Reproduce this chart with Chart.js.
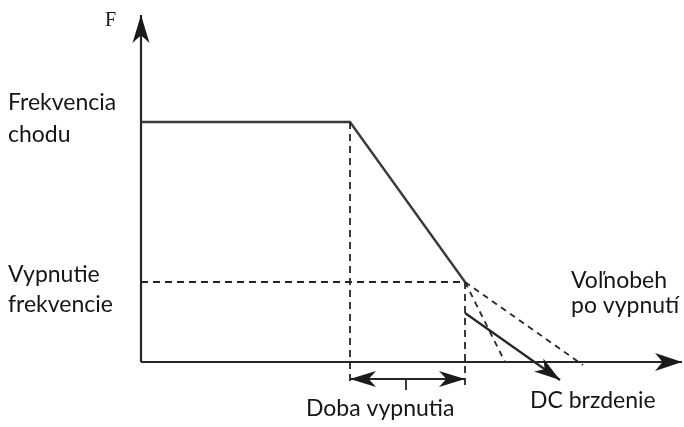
<!DOCTYPE html>
<html lang="sk">
<head>
<meta charset="UTF-8">
<title>Doba vypnutia</title>
<script src="https://cdn.jsdelivr.net/npm/chart.js"></script>
<style>
    body { margin: 0; background: #fff; }
    .wrap { width: 684px; height: 427px; }
</style>
</head>
<body>
<div class="wrap"><canvas id="stopChart"></canvas></div>
<script>
    // time (t) and frequency (F) values, origin where the axes cross
    const axisT = [0, 541];
    const axisF = [0, 347];
    const runT = [0, 209, 324];          // constant run, then ramp down
    const runF = [240, 240, 80];
    const stopGuideT = [0, 324];          // stop frequency level
    const stopGuideF = [80, 80];
    const decelGuideT = [209, 209];
    const decelGuideF = [240, -23];
    const stopLineT = [324, 324];
    const stopLineF = [80, -23];
    const rampT = [324, 364];             // ramp to zero after stop
    const rampF = [80, 0];
    const coastT = [324, 442];            // free run after switching off
    const coastF = [80, -3];
    const dcT = [324, 419];               // DC braking
    const dcF = [49, -18];
    const spanT = [209, 324];             // "Doba vypnutia" span
    const spanF = [-17, -17];
    const spanTickT = [265, 265];
    const spanTickF = [-17, -28];

    const labels = [
        { text: "F", t: -36, f: 336, font: "20px 'Liberation Serif', serif" },
        { text: "Frekvencia", t: -133, f: 252 },
        { text: "chodu", t: -133, f: 220 },
        { text: "Vypnutie", t: -133, f: 80 },
        { text: "frekvencie", t: -133, f: 50 },
        { text: "Voľnobeh", t: 430, f: 74 },
        { text: "po vypnutí", t: 430, f: 49 },
        { text: "Doba vypnutia", t: 165, f: -54 },
        { text: "DC brzdenie", t: 389, f: -46 }
    ];

    function pts(ts, fs) {
        return ts.map((t, i) => ({ x: t, y: fs[i] }));
    }

    function line(ts, fs, extra) {
        return Object.assign({
            data: pts(ts, fs),
            showLine: true,
            pointRadius: 0,
            borderColor: "#262626",
            borderWidth: 1.8,
            fill: false
        }, extra || {});
    }

    const dash = [7, 5];

    // arrowhead with a notched back, drawn from point a towards point b
    function drawHead(ctx, a, b, len, half) {
        const ang = Math.atan2(b.y - a.y, b.x - a.x);
        ctx.save();
        ctx.translate(b.x, b.y);
        ctx.rotate(ang);
        ctx.beginPath();
        ctx.moveTo(0, 0);
        ctx.lineTo(-len, -half);
        ctx.lineTo(-len * 0.72, 0);
        ctx.lineTo(-len, half);
        ctx.closePath();
        ctx.fillStyle = "#1a1a1a";
        ctx.fill();
        ctx.restore();
    }

    const arrowPlugin = {
        id: "arrows",
        afterDatasetsDraw(chart) {
            const ctx = chart.ctx;
            chart.data.datasets.forEach((ds, i) => {
                const p = chart.getDatasetMeta(i).data;
                const n = p.length;
                if (ds.arrowEnd) drawHead(ctx, p[n - 2], p[n - 1], ds.arrowLen, ds.arrowHalf);
                if (ds.arrowStart) drawHead(ctx, p[1], p[0], ds.arrowLen, ds.arrowHalf);
            });
        }
    };

    const textPlugin = {
        id: "texts",
        afterDraw(chart) {
            const ctx = chart.ctx;
            const xs = chart.scales.x, ys = chart.scales.y;
            ctx.save();
            ctx.fillStyle = "#161616";
            ctx.textAlign = "left";
            ctx.textBaseline = "alphabetic";
            labels.forEach(l => {
                ctx.font = l.font || "23px Lato, sans-serif";
                ctx.fillText(l.text, xs.getPixelForValue(l.t), ys.getPixelForValue(l.f));
            });
            ctx.restore();
        }
    };

    new Chart(document.getElementById("stopChart"), {
        type: "scatter",
        data: {
            datasets: [
                line(stopGuideT, stopGuideF, { borderDash: dash }),
                line(decelGuideT, decelGuideF, { borderDash: dash }),
                line(stopLineT, stopLineF, { borderDash: dash }),
                line(rampT, rampF, { borderDash: [6, 5] }),
                line(coastT, coastF, { borderDash: [6, 5] }),
                line(runT, runF, { borderColor: "#3a3a3a", borderWidth: 2.4 }),
                line(dcT, dcF, { borderWidth: 2.2, arrowEnd: true, arrowLen: 26, arrowHalf: 8 }),
                line(spanT, spanF, { arrowEnd: true, arrowStart: true, arrowLen: 26, arrowHalf: 8 }),
                line(spanTickT, spanTickF),
                line(axisT, [0, 0], { borderWidth: 2.2, arrowEnd: true, arrowLen: 27, arrowHalf: 9 }),
                line([0, 0], axisF, { borderWidth: 2.2, arrowEnd: true, arrowLen: 28, arrowHalf: 8.5 })
            ]
        },
        options: {
            responsive: true,
            maintainAspectRatio: false,
            animation: false,
            layout: { padding: 0 },
            plugins: {
                legend: { display: false },
                tooltip: { enabled: false }
            },
            scales: {
                x: { type: "linear", min: -141, max: 543, display: false },
                y: { type: "linear", min: -65, max: 362, display: false }
            }
        },
        plugins: [arrowPlugin, textPlugin]
    });
</script>
</body>
</html>
